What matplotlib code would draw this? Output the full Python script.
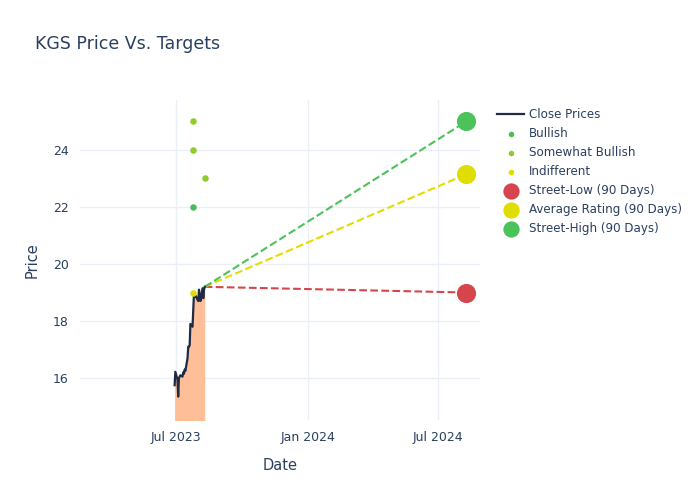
import numpy as np
import pandas as pd
import matplotlib.pyplot as plt
import matplotlib.dates as mdates

# cierre diario aproximado
fechas = pd.bdate_range('2023-06-29', '2023-08-10')
cierres = [15.75, 16.22, 15.95, 15.35, 16.0, 16.05, 16.1, 16.05, 16.2, 16.15,
           16.3, 16.25, 16.7, 17.1, 17.1, 17.15, 17.9, 17.8, 18.4, 18.95,
           18.85, 18.9, 18.75, 18.7, 19.1, 18.9, 18.7, 19.15, 18.8, 19.1, 19.2]

# ratings de analistas
bull_fechas = pd.to_datetime(['2023-07-24'])
bull_vals = [22]
sbull_fechas = pd.to_datetime(['2023-07-24', '2023-07-24', '2023-08-10'])
sbull_vals = [25, 24, 23]
indif_fechas = pd.to_datetime(['2023-07-24'])
indif_vals = [19]

# objetivos a 90 dias
fecha_obj = pd.Timestamp('2024-08-09')
obj_nombres = ['Street-Low (90 Days)', 'Average Rating (90 Days)', 'Street-High (90 Days)']
obj_vals = [19.0, 23.15, 25.0]
obj_colores = ['#d6454c', '#e0dd00', '#4cc25a']

texto = '#2a3f5f'
grid = '#ebf0f8'

fig = plt.figure(figsize=(7, 5), dpi=100)
ax = fig.add_axes([80/700, 80/500, 400/700, 320/500])

ax.fill_between(fechas, cierres, 14.5, color='#fdbe98', lw=0)
ax.plot(fechas, cierres, color='#1f2a44', lw=1.6, label='Close Prices', zorder=3)

for v, c in zip(obj_vals, obj_colores):
    ax.plot([fechas[-1], fecha_obj], [cierres[-1], v], '--', color=c, lw=1.5, zorder=2)

ax.scatter(bull_fechas, bull_vals, s=22, color='#4cbd55', label='Bullish', zorder=4, lw=0)
ax.scatter(sbull_fechas, sbull_vals, s=22, color='#8dcc2a', label='Somewhat Bullish', zorder=4, lw=0)
ax.scatter(indif_fechas, indif_vals, s=22, color='#e0dc00', label='Indifferent', zorder=4, lw=0)
for n, v, c in zip(obj_nombres, obj_vals, obj_colores):
    ax.scatter([fecha_obj], [v], s=190, color=c, label=n, zorder=5, lw=0)

ax.set_xlim(pd.Timestamp('2023-02-17'), pd.Timestamp('2024-08-28'))
ax.set_ylim(14.53, 25.75)
ax.set_yticks([16, 18, 20, 22, 24])
ax.xaxis.set_major_locator(mdates.MonthLocator(bymonth=[1, 7]))
ax.xaxis.set_major_formatter(mdates.DateFormatter('%b %Y'))
ax.grid(color=grid, lw=1)
ax.set_axisbelow(True)
for s in ax.spines.values():
    s.set_visible(False)
ax.tick_params(length=0, colors=texto, labelsize=9, pad=8)
ax.set_xlabel('Date', color=texto, fontsize=10.5, labelpad=10)
ax.set_ylabel('Price', color=texto, fontsize=10.5, labelpad=10)

fig.text(35/700, 1 - 44/500, 'KGS Price Vs. Targets', color=texto, fontsize=12.5, va='center')

leg = ax.legend(loc='upper left', bbox_to_anchor=(1.03, 0.99), frameon=False,
                fontsize=8.6, labelspacing=0.5, handlelength=2.3, handletextpad=0.4,
                borderaxespad=0, markerscale=0.85)
for t in leg.get_texts():
    t.set_color(texto)

fig.savefig('out.png', dpi=100)
